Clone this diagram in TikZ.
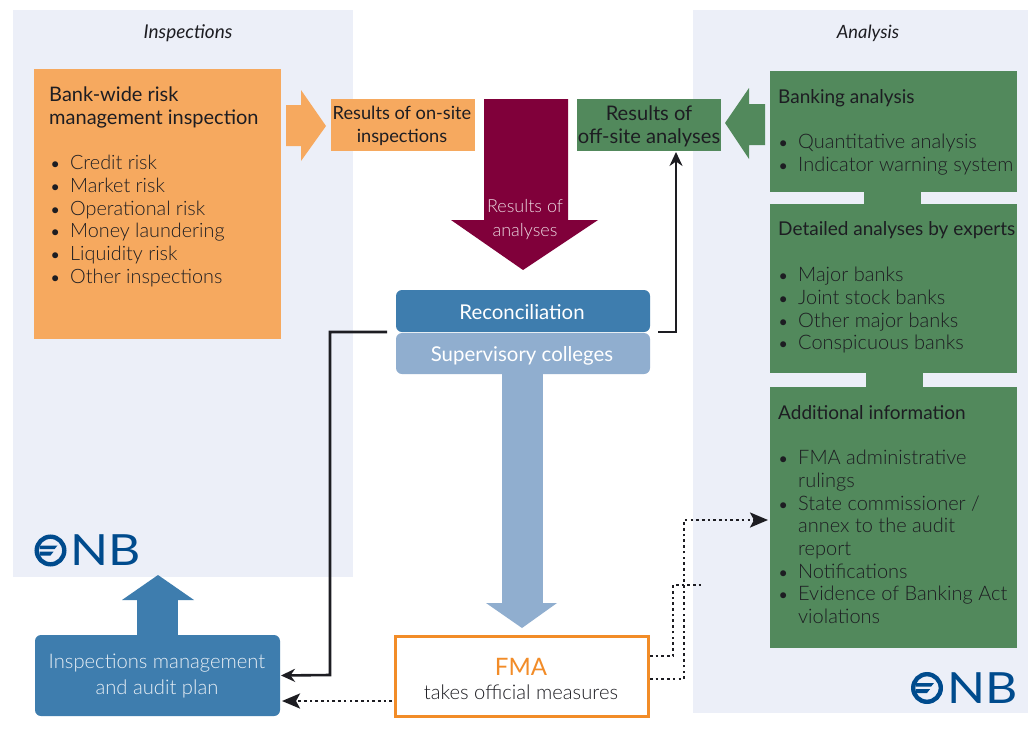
\documentclass[tikz,border=0pt]{standalone}
\usepackage{fontspec}
\setmainfont{Lato}
\newfontfamily\lightf{Lato Light}
\usetikzlibrary{arrows.meta}
\definecolor{panel}{HTML}{ECEFF8}
\definecolor{orangeb}{HTML}{F6A95F}
\definecolor{greenb}{HTML}{52895C}
\definecolor{wine}{HTML}{80003A}
\definecolor{blueb}{HTML}{3E7DAE}
\definecolor{lightb}{HTML}{90AECF}
\definecolor{fmao}{HTML}{F28C28}
\definecolor{onb}{HTML}{004B8D}
\definecolor{ink}{HTML}{1D1D22}
\newcommand{\bl}{\makebox[21pt][l]{\hspace{1.5pt}{\fontsize{16}{16}\selectfont\normalfont •}}}
\newcommand{\cnt}{\hspace*{21pt}}
\tikzset{
  x=1pt,y=-1pt,
  box/.style={inner sep=0pt,outer sep=0pt,anchor=north west},
  conn/.style={draw=ink,line width=2.6pt,-{Stealth[length=14pt,width=13pt]}},
  dotconn/.style={draw=ink,line width=2.6pt,dash pattern=on 2.6pt off 3.1pt,-{Stealth[length=18pt,width=15pt,inset=4pt]}},
  dotplain/.style={draw=ink,line width=2.6pt,dash pattern=on 2.6pt off 3.1pt},
  body/.style={font=\lightf\fontsize{20}{22.7}\selectfont,text=ink,align=left,anchor=north west,inner sep=0pt},
  head/.style={font=\fontsize{19}{23}\selectfont,text=ink,align=left,anchor=north west,inner sep=0pt},
  lab/.style={align=center,inner sep=0pt},
}
\newcommand{\onblogo}[2]{%
  \begin{scope}[shift={(#1,#2)}]
    \draw[onb,line width=4.4pt] (0,0) circle[radius=13.8];
    \fill[onb] (-11,-5) -- (7,-5) -- (4,-1.3) -- (-11,-1.3) -- cycle;
    \fill[onb] (-11,1.2) -- (3,1.2) -- (0,5) -- (-11,5) -- cycle;
  \end{scope}}
\begin{document}
\begin{tikzpicture}
\useasboundingbox (0,0) rectangle (1028,731);
\fill[white] (0,0) rectangle (1028,731);
\node[box,fill=panel,minimum width=340pt,minimum height=567pt] (leftpanel) at (13,10) {};
\node[box,fill=panel,minimum width=335pt,minimum height=703pt] (rightpanel) at (693,10) {};
\node[font=\fontsize{19}{20}\selectfont\itshape,text=ink,inner sep=0pt] (tinsp) at (188,33) {Inspections};
\node[font=\fontsize{18.3}{20}\selectfont\itshape,text=ink,inner sep=0pt] (tana) at (868,33) {Analysis};
% orange box
\node[box,fill=orangeb,minimum width=247pt,minimum height=270pt] (bankwide) at (34,69) {};
\node[head,font=\fontsize{20}{23}\selectfont] (bwh) at (49,87) {Bank-wide risk\\management inspection};
\node[body,font=\lightf\fontsize{19.8}{22.7}\selectfont] (bwl) at (49,155) {\bl Credit risk\\\bl Market risk\\\bl Operational risk\\\bl Money laundering\\\bl Liquidity risk\\\bl Other inspections};
% results
\node[box,fill=orangeb,minimum width=144pt,minimum height=52pt] (onsite) at (331,99) {};
\node[lab,text=ink,font=\fontsize{18.2}{23}\selectfont] (onsitet) at (402,126) {Results of on-site\\inspections};
\node[box,fill=greenb,minimum width=144pt,minimum height=52pt] (offsite) at (577,99) {};
\node[lab,text=ink,font=\fontsize{20.1}{23}\selectfont] (offsitet) at (649,126) {Results of\\off-site analyses};
% arrows
\fill[orangeb] (286,105) -- (301,105) -- (301,90) -- (326,126) -- (301,161) -- (301,146) -- (286,146) -- cycle;
\fill[greenb] (765,104) -- (749,104) -- (749,88) -- (725,123) -- (749,159) -- (749,145) -- (765,145) -- cycle;
\fill[wine] (484,99) -- (568,99) -- (568,220) -- (598,220) -- (523,270) -- (451,220) -- (484,220) -- cycle;
\node[lab,font=\lightf\fontsize{18}{23.5}\selectfont,text=white!85!wine] (resan) at (525,219.5) {Results of\\analyses};
% right boxes
\fill[greenb] (770,71) rectangle (1017,192);
\fill[greenb] (864,192) rectangle (921,204);
\fill[greenb] (770,204) rectangle (1017,373);
\fill[greenb] (866,373) rectangle (923,387);
\fill[greenb] (770,387) rectangle (1017,648);
\node[head] (h1) at (778,89) {Banking analysis};
\node[body] (l1) at (777,134) {\bl Quantitative analysis\\\bl Indicator warning system};
\node[head] (h2) at (778,221) {Detailed analyses by experts};
\node[body] (l2) at (777,267) {\bl Major banks\\\bl Joint stock banks\\\bl Other major banks\\\bl Conspicuous banks};
\node[head] (h3) at (778,405) {Additional information};
\node[body] (l3) at (777,450) {\bl FMA administrative\\\cnt rulings\\\bl State commissioner /\\\cnt annex to the audit\\\cnt report\\\bl Notifications\\\bl Evidence of Banking Act\\\cnt violations};
% centre
\fill[lightb] (502,370) rectangle (543,603);
\fill[lightb] (486,603) -- (557,603) -- (522,628) -- cycle;
\node[box,fill=lightb,rounded corners=6pt,minimum width=254pt,minimum height=41pt] (sup) at (396,333) {};
\node[lab,text=white,font=\fontsize{20.4}{23}\selectfont] (supt) at (522,355.5) {Supervisory colleges};
\node[box,fill=blueb,rounded corners=6pt,minimum width=254pt,minimum height=42pt] (recon) at (396,290) {};
\node[lab,text=white,font=\fontsize{20.4}{23}\selectfont] (recont) at (522,312.5) {Reconciliation};
% FMA
\node[box,draw=fmao,line width=3pt,fill=white,minimum width=253pt,minimum height=80pt] (fma) at (395,636) {};
\node[font=\fontsize{24}{26}\selectfont,text=fmao,inner sep=0pt] (fmat) at (521,666.5) {FMA};
\node[lab,text=ink,font=\lightf\fontsize{20.2}{23}\selectfont] (fmas) at (521,692) {takes official measures};
% inspections mgmt
\fill[blueb] (137,600) rectangle (178,640);
\fill[blueb] (122,600) -- (194,600) -- (158,575) -- cycle;
\node[box,fill=blueb,rounded corners=6pt,minimum width=245pt,minimum height=81pt] (insp) at (35,635) {};
\node[lab,text=white!88!blueb,font=\lightf\fontsize{20.2}{26}\selectfont] (inspt) at (157,676) {Inspections management\\and audit plan};
% logos
\onblogo{50.5}{550.5}
\node[xscale=1.16,font=\fontsize{43}{44}\selectfont,text=onb,inner sep=0pt] (nb1) at (105.5,550.5) {NB};
\onblogo{927}{688}
\node[xscale=1.16,font=\fontsize{43}{44}\selectfont,text=onb,inner sep=0pt] (nb2) at (983,688) {NB};
% connectors
\coordinate (e1) at (330,675);
\coordinate (off1) at (676,152);
\coordinate (fmab) at (392,701);
\coordinate (inspb) at (282,701);
\coordinate (fma1) at (650,656);
\coordinate (fma2) at (650,679);
\coordinate (d1) at (673,585);
\coordinate (d1e) at (703,585);
\coordinate (d2) at (684,520);
\coordinate (add) at (768,520);
\draw[conn,shorten <=9pt,shorten >=1pt] (recon.south west) -| (e1) -- (insp.east);
\draw[conn,shorten <=8pt] (recon.south east) -| (off1);
\draw[dotconn] (fmab) -- (inspb);
\draw[dotplain] (fma1) -| (d1) -- (d1e);
\draw[dotconn] (fma2) -| (d2) -- (add);
\end{tikzpicture}
\end{document}
